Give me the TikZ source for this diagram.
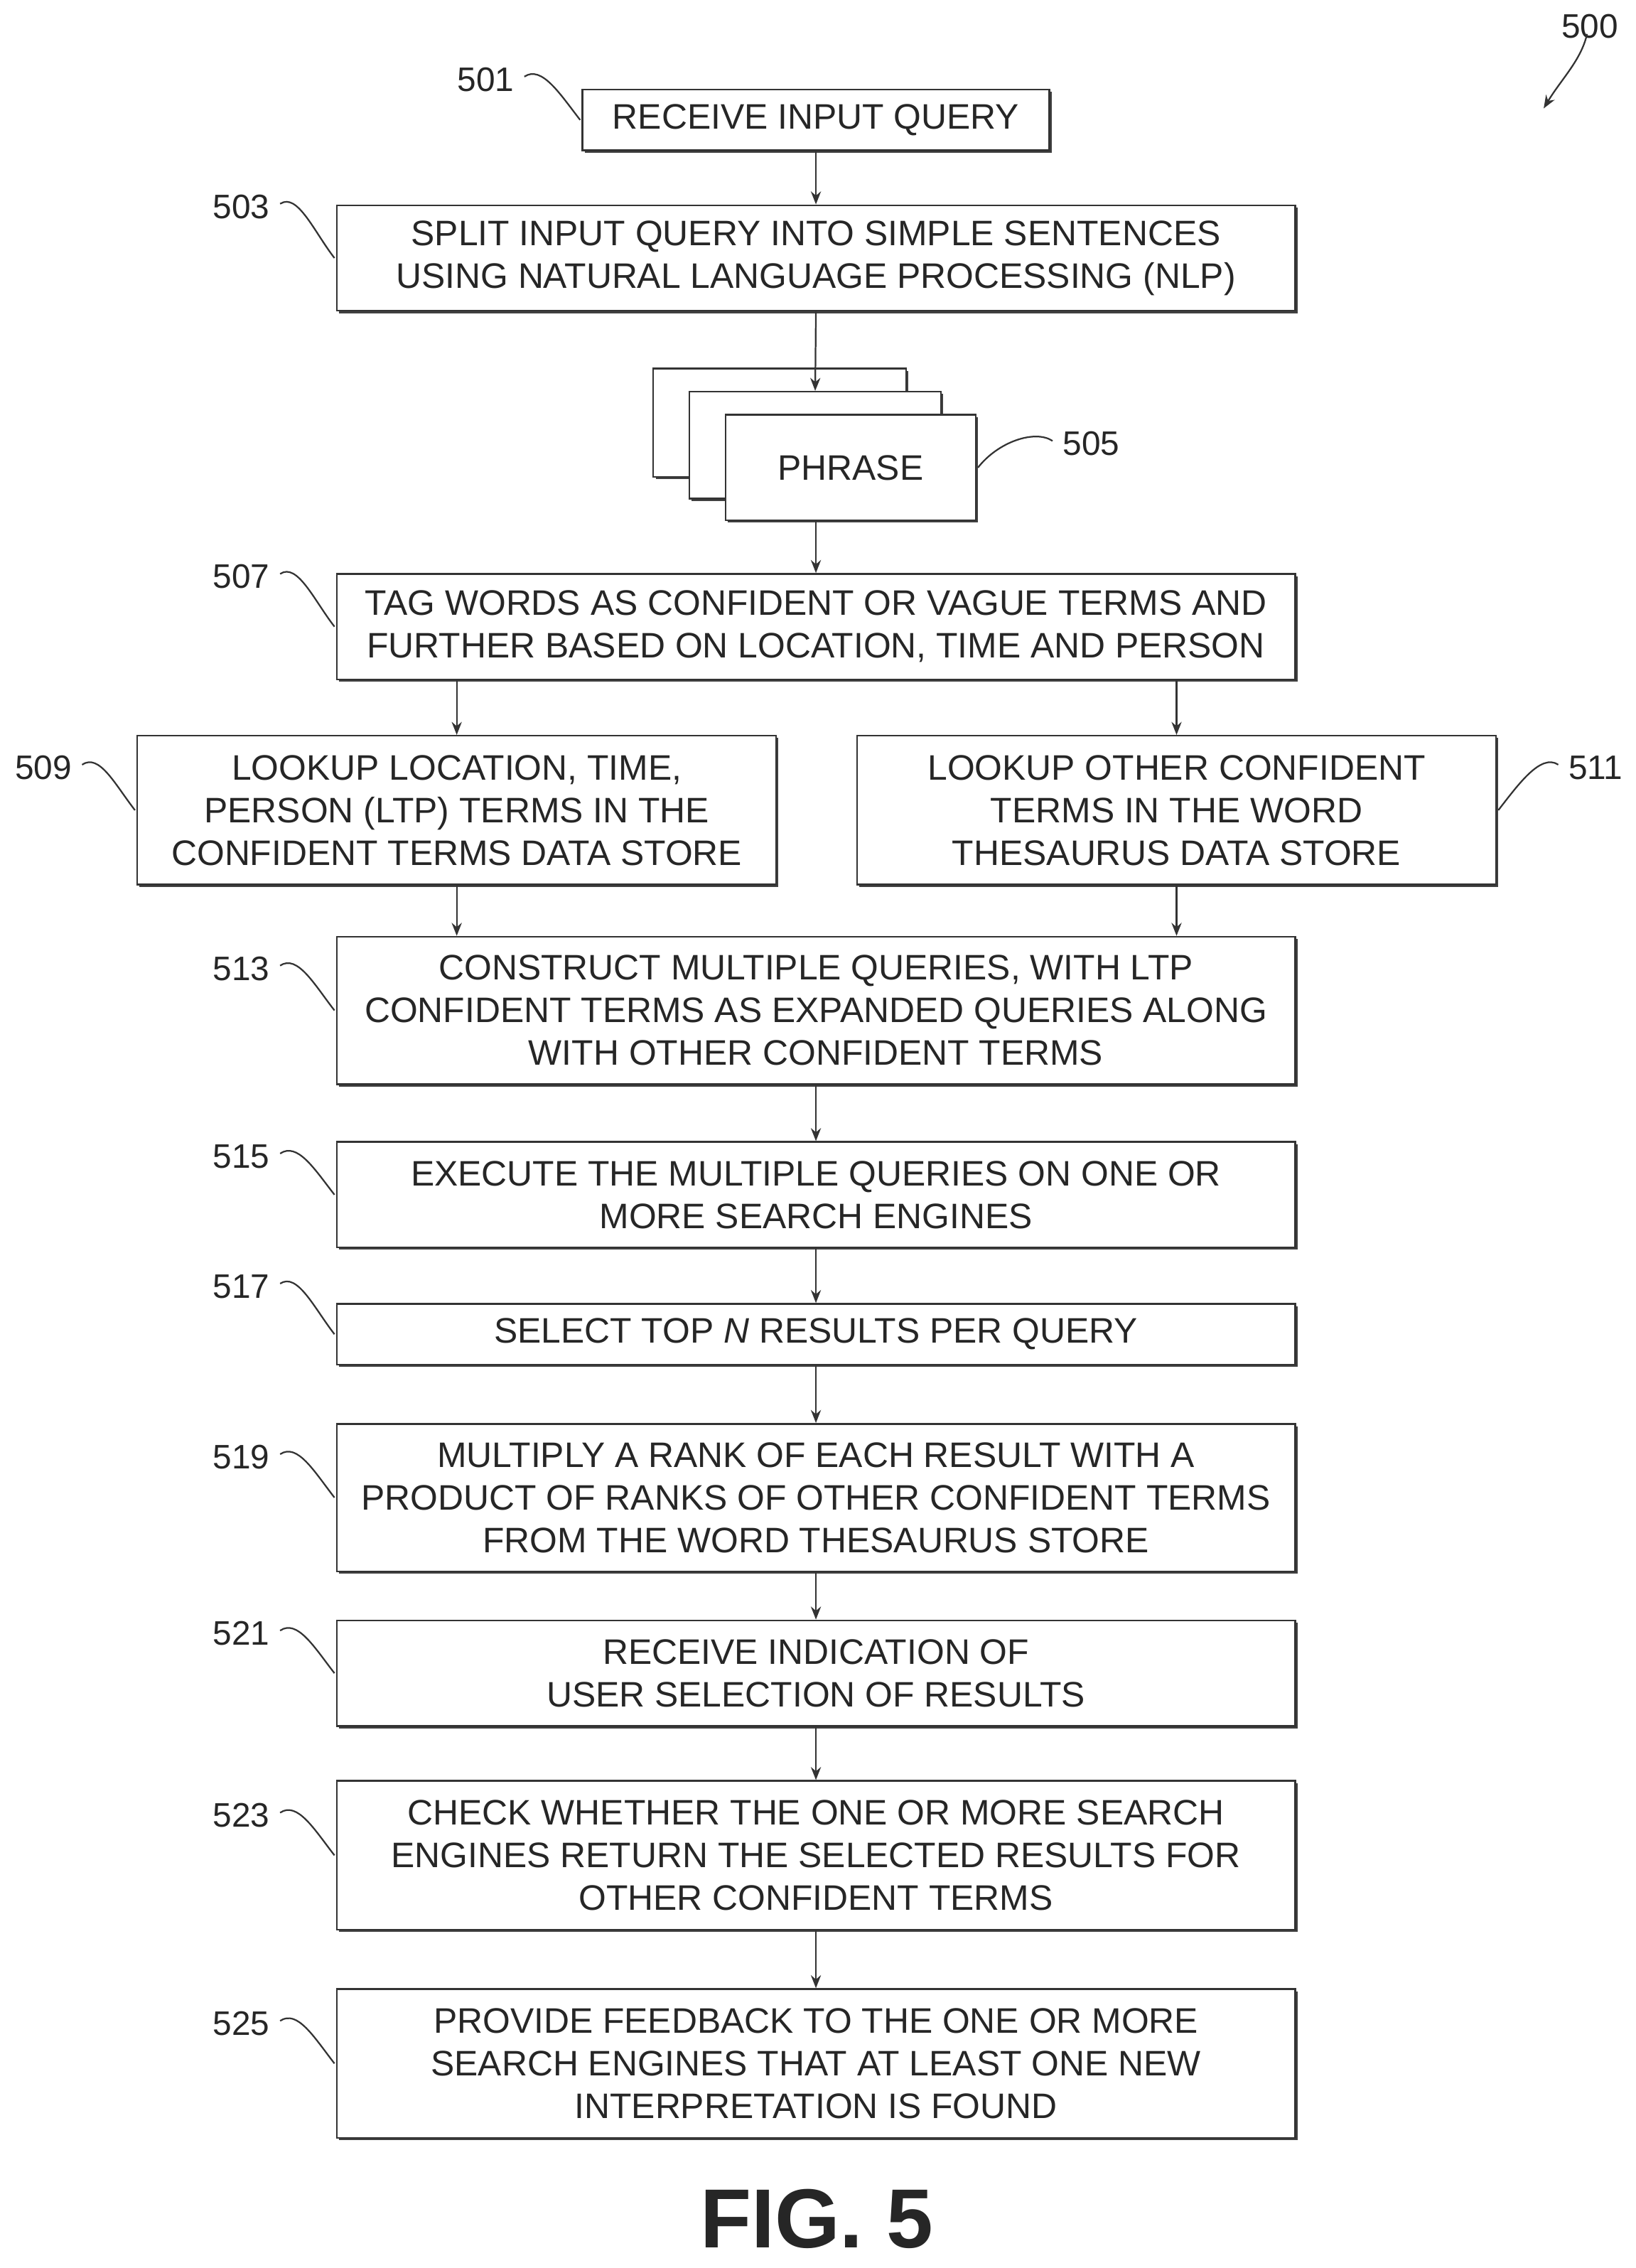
\documentclass[tikz,border=0pt]{standalone}
\usepackage{fontspec}
\setmainfont{Liberation Sans}
\usetikzlibrary{shadows,arrows.meta}
\begin{document}
\begin{tikzpicture}[x=1pt,y=-1pt,
 box/.style={draw=black!80,line width=1.2pt,fill=white,align=center,inner sep=0pt,
   font=\fontsize{24.5}{29.5}\selectfont,text=black!85,
   drop shadow={shadow xshift=1.6pt,shadow yshift=-1.6pt,fill=black!75,opacity=1}},
 lab/.style={font=\fontsize{23.5}{26}\selectfont,text=black!85,inner sep=1pt},
 sq/.style={line width=1.1pt,black!80},
 arr/.style={line width=1.1pt,black!80,-{Stealth[length=9pt,width=7pt]}}]
\useasboundingbox (0,0) rectangle (1131.5,1569);
\newcommand\bx[6]{\node[box,minimum width=#4,minimum height=#5] (#1) at (#2,#3) {#6};}
\bx{b501}{564.5}{83}{323}{42}{RECEIVE INPUT QUERY}
\bx{b503}{564.5}{178.5}{663}{73}{SPLIT INPUT QUERY INTO SIMPLE SENTENCES\\USING NATURAL LANGUAGE PROCESSING (NLP)}
\bx{p1}{539.5}{292.5}{175}{75}{}
\bx{p2}{564}{308}{174}{74}{}
\bx{b505}{588.5}{323.5}{173}{73}{PHRASE}
\bx{b507}{564.5}{433.5}{663}{73}{TAG WORDS AS CONFIDENT OR VAGUE TERMS AND\\FURTHER BASED ON LOCATION, TIME AND PERSON}
\bx{b509}{316}{560.5}{442}{103}{LOOKUP LOCATION, TIME,\\PERSON (LTP) TERMS IN THE\\CONFIDENT TERMS DATA STORE}
\bx{b511}{814}{560.5}{442}{103}{LOOKUP OTHER CONFIDENT\\TERMS IN THE WORD\\THESAURUS DATA STORE}
\bx{b513}{564.5}{699}{663}{102}{CONSTRUCT MULTIPLE QUERIES, WITH LTP\\CONFIDENT TERMS AS EXPANDED QUERIES ALONG\\WITH OTHER CONFIDENT TERMS}
\bx{b515}{564.5}{826.5}{663}{73}{EXECUTE THE MULTIPLE QUERIES ON ONE OR\\MORE SEARCH ENGINES}
\bx{b517}{564.5}{923}{663}{42}{SELECT TOP \textit{N} RESULTS PER QUERY}
\bx{b519}{564.5}{1036}{663}{102}{MULTIPLY A RANK OF EACH RESULT WITH A\\PRODUCT OF RANKS OF OTHER CONFIDENT TERMS\\FROM THE WORD THESAURUS STORE}
\bx{b521}{564.5}{1157.5}{663}{73}{RECEIVE INDICATION OF\\USER SELECTION OF RESULTS}
\bx{b523}{564.5}{1283.5}{663}{103}{CHECK WHETHER THE ONE OR MORE SEARCH\\ENGINES RETURN THE SELECTED RESULTS FOR\\OTHER CONFIDENT TERMS}
\bx{b525}{564.5}{1427.5}{663}{103}{PROVIDE FEEDBACK TO THE ONE OR MORE\\SEARCH ENGINES THAT AT LEAST ONE NEW\\INTERPRETATION IS FOUND}
% arrows
\draw[arr] (b501) -- (b503);
\draw[arr] (b503.south) -- (p2.north);
\draw[arr] (b505.south -| b507.north) -- (b507.north);
\draw[arr] (b507.south -| b509.north) -- (b509.north);
\draw[arr] (b507.south -| b511.north) -- (b511.north);
\draw[arr] (b509.south) -- (b513.north -| b509.south);
\draw[arr] (b511.south) -- (b513.north -| b511.south);
\draw[arr] (b513) -- (b515);
\draw[arr] (b515) -- (b517);
\draw[arr] (b517) -- (b519);
\draw[arr] (b519) -- (b521);
\draw[arr] (b521) -- (b523);
\draw[arr] (b523) -- (b525);
% labels
\node[lab] (l501) at (336,55) {501};
\node[lab] (l503) at (167,143) {503};
\node[lab] (l505) at (755,307) {505};
\node[lab] (l507) at (167,399) {507};
\node[lab] (l509) at (30,531) {509};
\node[lab] (l511) at (1104,531) {511};
\node[lab] (l513) at (167,670) {513};
\node[lab] (l515) at (167,800) {515};
\node[lab] (l517) at (167,890) {517};
\node[lab] (l519) at (167,1008) {519};
\node[lab] (l521) at (167,1130) {521};
\node[lab] (l523) at (167,1256) {523};
\node[lab] (l525) at (167,1400) {525};
\node[lab] (l500) at (1100,18) {500};
\foreach \n/\b in {501/b501,503/b503,507/b507,513/b513,515/b515,517/b517,519/b519,521/b521,523/b523,525/b525}{
  \draw[sq] ([xshift=6pt,yshift=2pt]l\n.east) .. controls +(12,-8) and +(-14,-18) .. ([xshift=-1pt]\b.west);}
\draw[sq] ([xshift=6pt,yshift=2pt]l509.east) .. controls +(12,-8) and +(-14,-18) .. ([xshift=-1pt]b509.west);
\draw[sq] ([xshift=-6pt,yshift=2pt]l511.west) .. controls +(-12,-8) and +(14,-18) .. ([xshift=1pt]b511.east);
\draw[sq] ([xshift=-6pt,yshift=2pt]l505.west) .. controls +(-12,-8) and +(14,-18) .. ([xshift=1pt]b505.east);
\coordinate (a500) at (1068,75);
\draw[arr] ([xshift=-2pt,yshift=4pt]l500.south) .. controls +(-4,18) and +(12,-20) .. (a500);
\node[font=\bfseries\fontsize{58}{60}\selectfont,text=black!85] (fig) at (565,1535) {FIG. 5};
\end{tikzpicture}
\end{document}
